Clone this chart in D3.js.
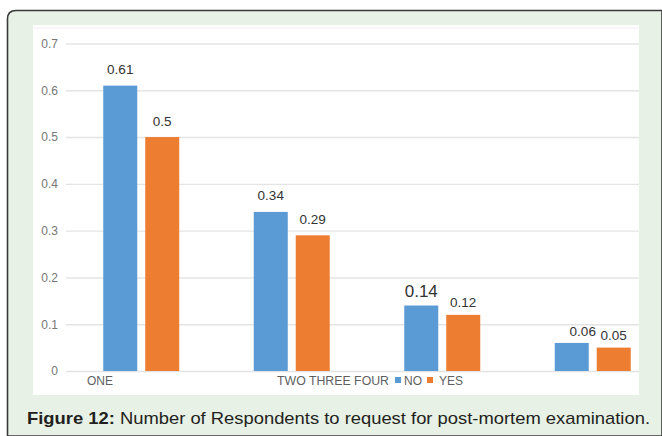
<!DOCTYPE html>
<html><head><meta charset="utf-8">
<script src="https://cdn.jsdelivr.net/npm/d3@7"></script>
<style>html,body{margin:0;padding:0;background:#fff;}svg{display:block;font-family:"Liberation Sans",Arial,sans-serif;}</style>
</head><body>
<svg id="c" width="662" height="436"></svg>
<script>
const categories = ["ONE", "TWO", "THREE", "FOUR"];
const seriesNames = ["NO", "YES"];
const noValues = [0.61, 0.34, 0.14, 0.06];
const yesValues = [0.5, 0.29, 0.12, 0.05];
const yTicks = [0, 0.1, 0.2, 0.3, 0.4, 0.5, 0.6, 0.7];
const colors = ["#5b9bd5", "#ed7d31"];
const caption = ["Figure 12:", " Number of Respondents to request for post-mortem examination."];

const svg = d3.select("#c");
// outer frame
svg.append("path")
  .attr("d", "M7.5,436 L7.5,19 Q7.5,10.5 16,10.5 L662,10.5 L662,436 Z")
  .attr("fill", "#e7f1e6").attr("stroke", "#3a3a3a").attr("stroke-width", 1.6);
// white plot area
svg.append("rect").attr("x", 33).attr("y", 25).attr("width", 606).attr("height", 370).attr("fill", "#fff");
svg.append("line").attr("x1", 33).attr("x2", 639).attr("y1", 28).attr("y2", 28).attr("stroke", "#f0f0f0").attr("stroke-width", 1);

const y = d3.scaleLinear().domain([0, 0.7]).range([371, 43.5]);
const x0 = d3.scaleBand().domain(categories).range([66, 668]).paddingInner(0.495).paddingOuter(0.2475);
const x1 = d3.scaleBand().domain(seriesNames).range([0, x0.bandwidth()]).paddingInner(0.19);

// gridlines + y axis
const yAxis = d3.axisLeft(y).tickValues(yTicks).tickSize(-(639 - 66)).tickFormat(d => d === 0 ? "0" : d3.format(".1f")(d));
const ga = svg.append("g").attr("transform", "translate(66,0)").call(yAxis);
ga.select(".domain").remove();
ga.selectAll(".tick line").attr("stroke", "#e4e4e4").attr("stroke-width", 1.4);
ga.selectAll(".tick text").attr("x", -8).attr("fill", "#767676").attr("font-size", 12)
  .attr("font-family", "'Liberation Sans',Arial,sans-serif");

// bars
const rows = categories.map((c, i) => ({cat: c, vals: [noValues[i], yesValues[i]]}));
const g = svg.append("g");
rows.forEach((r, ci) => {
  r.vals.forEach((v, si) => {
    const bx = x0(r.cat) + x1(seriesNames[si]);
    g.append("rect").attr("x", bx).attr("y", y(v)).attr("width", x1.bandwidth()).attr("height", y(0) - y(v)).attr("fill", colors[si]);
    const big = (r.cat === "THREE" && si === 0);
    const close = ci >= 2;
    let lx = bx + x1.bandwidth() / 2;
    if (r.cat === "FOUR" && si === 0) lx += 11;
    let off = big ? 9 : (close ? 8 : 11.5);
    if (r.cat === "FOUR" && si === 0) off = 7;
    g.append("text").attr("x", lx).attr("y", y(v) - off).attr("text-anchor", "middle")
      .attr("font-size", big ? 17 : 13.5).attr("fill", "#333").text(String(v));
  });
});

// x labels (as in reference)
svg.append("text").attr("x", 87).attr("y", 385).attr("font-size", 12).attr("fill", "#5f5f5f").text(categories[0]);
const lg = svg.append("g");
lg.append("text").attr("x", 277).attr("y", 385).attr("font-size", 12).attr("fill", "#5f5f5f")
  .attr("textLength", 112).attr("lengthAdjust", "spacingAndGlyphs").text(categories.slice(1).join(" "));
lg.append("rect").attr("x", 395).attr("y", 377).attr("width", 6).attr("height", 6).attr("fill", colors[0]);
lg.append("text").attr("x", 404).attr("y", 385).attr("font-size", 12).attr("fill", "#5f5f5f").text(seriesNames[0]);
lg.append("rect").attr("x", 427).attr("y", 377).attr("width", 6).attr("height", 6).attr("fill", colors[1]);
lg.append("text").attr("x", 439).attr("y", 385).attr("font-size", 12).attr("fill", "#5f5f5f").text(seriesNames[1]);

// caption
const ct = svg.append("text").attr("x", 27).attr("y", 424).attr("font-size", 17).attr("fill", "#231f20")
  .attr("textLength", 623).attr("lengthAdjust", "spacingAndGlyphs");
ct.append("tspan").attr("font-weight", "bold").text(caption[0]);
ct.append("tspan").text(caption[1]);
</script>
</body></html>
